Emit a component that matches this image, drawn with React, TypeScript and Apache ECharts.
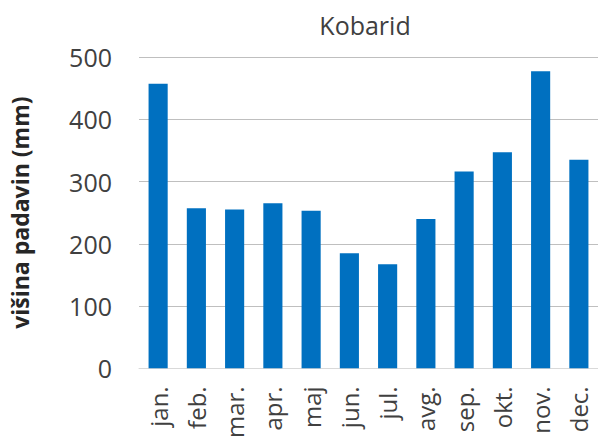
import React, { useEffect, useRef } from "react";
import * as echarts from "echarts";

const categories = ["jan.", "feb.", "mar.", "apr.", "maj", "jun.", "jul.", "avg.", "sep.", "okt.", "nov.", "dec."];
const precipitation = [457, 257, 255, 265, 253, 185, 167, 240, 316, 347, 477, 335];
const titleText = "Kobarid";
const yAxisName = "višina padavin (mm)";

const FONT = "'Open Sans', 'Noto Sans', sans-serif";

export default function App() {
  const ref = useRef<HTMLDivElement>(null);
  useEffect(() => {
    if (!ref.current) return;
    const chart = echarts.init(ref.current, null, { renderer: "svg" });
    chart.setOption({
      animation: false,
      backgroundColor: "#ffffff",
      textStyle: { fontFamily: FONT },
      graphic: [
        {
          type: "text",
          x: 365,
          y: 25,
          style: {
            text: titleText,
            fontFamily: FONT,
            fontSize: 25,
            fill: "#404040",
            textAlign: "center",
            textVerticalAlign: "middle",
          },
        },
      ],
      grid: { left: 137, right: 0, top: 57, bottom: 71, containLabel: false },
      xAxis: {
        type: "category",
        data: categories,
        axisLine: { show: true, lineStyle: { color: "#d9d9d9", width: 1 } },
        axisTick: { show: false },
        axisLabel: {
          rotate: 90,
          interval: 0,
          margin: 18,
          fontSize: 24,
          color: "#404040",
          fontFamily: FONT,
        },
      },
      yAxis: {
        type: "value",
        min: 0,
        max: 500,
        interval: 100,
        name: yAxisName,
        nameLocation: "middle",
        nameGap: 108,
        nameTextStyle: {
          fontSize: 23,
          fontWeight: "bold",
          color: "#262626",
          fontFamily: FONT,
        },
        axisLine: { show: false },
        axisTick: { show: false },
        splitLine: { lineStyle: { color: "#bfbfbf", width: 1 } },
        axisLabel: {
          margin: 27,
          fontSize: 25,
          color: "#404040",
          fontFamily: FONT,
        },
      },
      series: [
        {
          type: "bar",
          data: precipitation,
          barCategoryGap: "50%",
          itemStyle: { color: "#0070C0" },
        },
      ],
    });
    return () => chart.dispose();
  }, []);
  return (
    <div
      ref={ref}
      style={{ position: "fixed", left: 0, top: 0, width: 598, height: 441 }}
    />
  );
}
